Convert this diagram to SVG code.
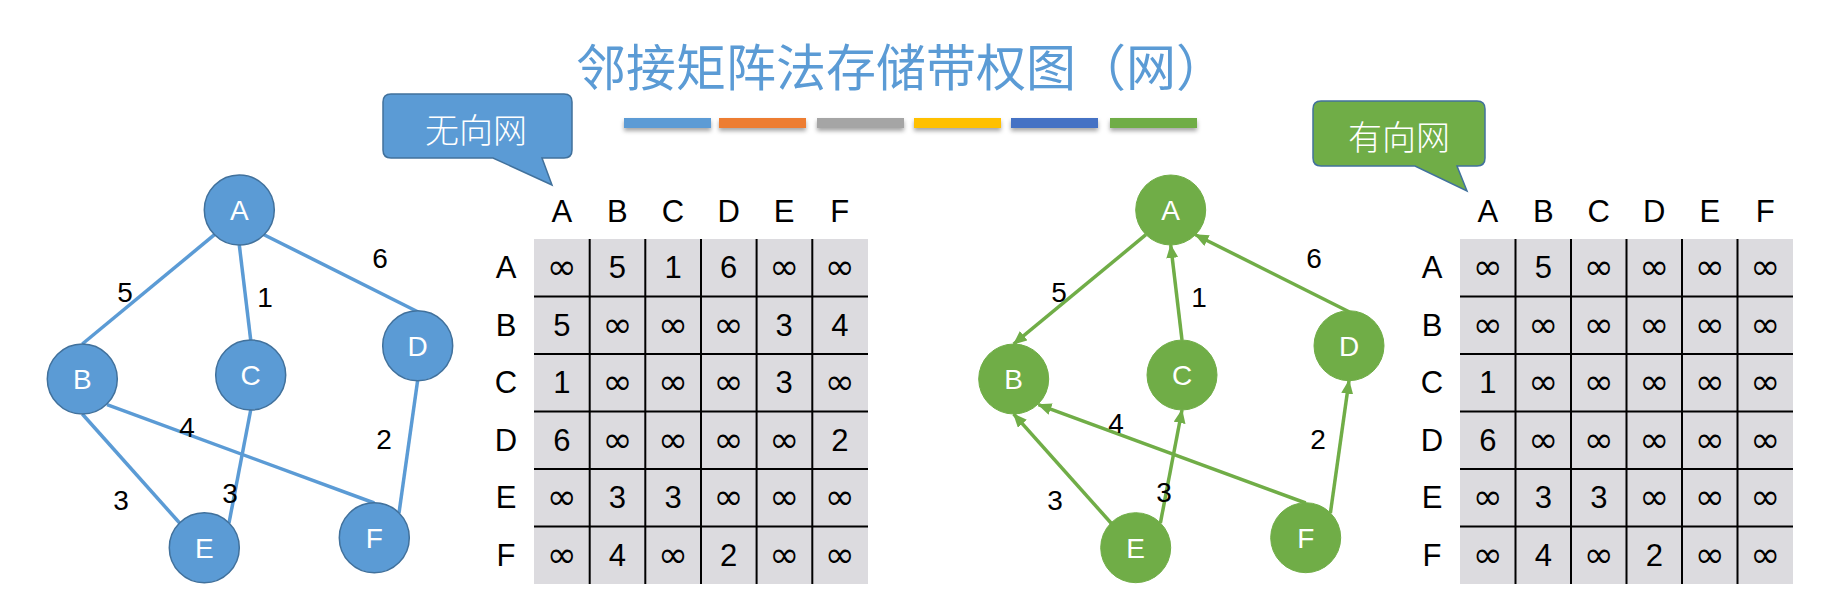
<svg xmlns="http://www.w3.org/2000/svg" width="1838" height="610" viewBox="0 0 1838 610">
<style>
.title{font-family:"Noto Sans CJK SC","Noto Sans",sans-serif;font-size:50px;fill:#5b9bd5}
.call{font-family:"Noto Sans CJK SC",sans-serif;font-size:34px;font-weight:300;fill:#ffffff;text-anchor:middle;dominant-baseline:central}
.nlab{font-family:"Liberation Sans",Arial,sans-serif;font-size:28px;fill:#ffffff;text-anchor:middle}
.elab{font-family:"Liberation Sans",Arial,sans-serif;font-size:28px;fill:#000000;text-anchor:middle}
.mt{font-family:"Liberation Sans",Arial,sans-serif;font-size:31px;fill:#000000;text-anchor:middle}
.inf{font-family:"DejaVu Sans",sans-serif;font-size:36px;fill:#000000;text-anchor:middle}
.bn{fill:#5b9bd5;stroke:#41719c;stroke-width:1.5}
.gn{fill:#70ad47;stroke:#70ad47;stroke-width:1}
.be{stroke:#5b9bd5;stroke-width:3.5;fill:none}
.ge{stroke:#70ad47;stroke-width:3.5;fill:none;marker-end:url(#ga)}
.cell{fill:#dcdbdf}
.grid{stroke:#000000;stroke-width:2}
</style>
<defs>
<marker id="ga" markerUnits="userSpaceOnUse" markerWidth="16" markerHeight="14" refX="13" refY="6" orient="auto">
<path d="M0,0 L14,6 L0,12 Z" fill="#70ad47"/>
</marker>
<filter id="sh" x="-10%" y="-50%" width="120%" height="250%">
<feDropShadow dx="0" dy="3" stdDeviation="2" flood-color="#000000" flood-opacity="0.35"/>
</filter>
</defs>

<g id="title">
<text class="title" x="576" y="86">邻接矩阵法存储带权图（网）</text>
</g>

<g id="color-bars" filter="url(#sh)">
<rect x="624" y="118" width="87" height="10" fill="#5b9bd5"/>
<rect x="719" y="118" width="87" height="10" fill="#ed7d31"/>
<rect x="817" y="118" width="87" height="10" fill="#a5a5a5"/>
<rect x="914" y="118" width="87" height="10" fill="#ffc000"/>
<rect x="1011" y="118" width="87" height="10" fill="#4472c4"/>
<rect x="1110" y="118" width="87" height="10" fill="#70ad47"/>
</g>

<g id="callout-undirected">
<path d="M391,94 H564 Q572,94 572,102 V150 Q572,158 564,158 H542 L552,185 L493,158 H391 Q383,158 383,150 V102 Q383,94 391,94 Z" fill="#5b9bd5" stroke="#41719c" stroke-width="1.5"/>
<text class="call" x="476" y="128">无向网</text>
</g>

<g id="callout-directed">
<path d="M1321,101 H1477 Q1485,101 1485,109 V158 Q1485,166 1477,166 H1457 L1467,191 L1415,166 H1321 Q1313,166 1313,158 V109 Q1313,101 1321,101 Z" fill="#70ad47" stroke="#41719c" stroke-width="1.5"/>
<text class="call" x="1399" y="135">有向网</text>
</g>

<g id="connectors-left">
<line class="be" x1="214.5" y1="234.7" x2="82.3" y2="344"/>
<line class="be" x1="239.3" y1="245" x2="250.7" y2="340"/>
<line class="be" x1="264" y1="234.7" x2="417.7" y2="311.7"/>
<line class="be" x1="82.3" y1="414" x2="179.6" y2="523"/>
<line class="be" x1="107" y1="404.7" x2="374.3" y2="503"/>
<line class="be" x1="250.7" y1="410" x2="229" y2="523"/>
<line class="be" x1="417.7" y1="380" x2="399" y2="513"/>
</g>
<g id="edge-labels-left">
<text class="elab" x="125" y="302">5</text>
<text class="elab" x="265" y="307">1</text>
<text class="elab" x="380" y="268">6</text>
<text class="elab" x="187" y="437">4</text>
<text class="elab" x="384" y="449">2</text>
<text class="elab" x="121" y="510">3</text>
<text class="elab" x="230" y="503">3</text>
</g>

<g id="uA"><circle class="bn" cx="239.3" cy="210" r="35"/><text class="nlab" x="239.3" y="220">A</text></g>
<g id="uB"><circle class="bn" cx="82.3" cy="379" r="35"/><text class="nlab" x="82.3" y="389">B</text></g>
<g id="uC"><circle class="bn" cx="250.7" cy="375" r="35"/><text class="nlab" x="250.7" y="385">C</text></g>
<g id="uD"><circle class="bn" cx="417.7" cy="345.7" r="35"/><text class="nlab" x="417.7" y="355.7">D</text></g>
<g id="uE"><circle class="bn" cx="204.3" cy="547.7" r="35"/><text class="nlab" x="204.3" y="557.7">E</text></g>
<g id="uF"><circle class="bn" cx="374.3" cy="537.7" r="35"/><text class="nlab" x="374.3" y="547.7">F</text></g>

<g id="connectors-right">
<line class="ge" x1="1145.9" y1="234.7" x2="1013.7" y2="344"/>
<line class="ge" x1="1182" y1="340" x2="1170.7" y2="245"/>
<line class="ge" x1="1349" y1="311.7" x2="1195.4" y2="234.7"/>
<line class="ge" x1="1111" y1="523" x2="1013.7" y2="414"/>
<line class="ge" x1="1305.7" y1="503" x2="1038.4" y2="404.7"/>
<line class="ge" x1="1160.4" y1="523" x2="1182" y2="410"/>
<line class="ge" x1="1330.4" y1="513" x2="1349" y2="380.7"/>
</g>
<g id="edge-labels-right">
<text class="elab" x="1059" y="302">5</text>
<text class="elab" x="1199" y="307">1</text>
<text class="elab" x="1314" y="268">6</text>
<text class="elab" x="1116" y="433">4</text>
<text class="elab" x="1318" y="449">2</text>
<text class="elab" x="1055" y="510">3</text>
<text class="elab" x="1164" y="502">3</text>
</g>

<g id="dA"><circle class="gn" cx="1170.7" cy="210" r="35"/><text class="nlab" x="1170.7" y="220">A</text></g>
<g id="dB"><circle class="gn" cx="1013.7" cy="379" r="35"/><text class="nlab" x="1013.7" y="389">B</text></g>
<g id="dC"><circle class="gn" cx="1182" cy="375" r="35"/><text class="nlab" x="1182" y="385">C</text></g>
<g id="dD"><circle class="gn" cx="1349" cy="345.7" r="35"/><text class="nlab" x="1349" y="355.7">D</text></g>
<g id="dE"><circle class="gn" cx="1135.7" cy="547.7" r="35"/><text class="nlab" x="1135.7" y="557.7">E</text></g>
<g id="dF"><circle class="gn" cx="1305.7" cy="537.7" r="35"/><text class="nlab" x="1305.7" y="547.7">F</text></g>

<g id="matrix-left">
<rect class="cell" x="534" y="239" width="334" height="345"/>
<g class="grid">
<line x1="589.7" y1="239" x2="589.7" y2="584"/>
<line x1="645.3" y1="239" x2="645.3" y2="584"/>
<line x1="701" y1="239" x2="701" y2="584"/>
<line x1="756.6" y1="239" x2="756.6" y2="584"/>
<line x1="812.3" y1="239" x2="812.3" y2="584"/>
<line x1="534" y1="296.5" x2="868" y2="296.5"/>
<line x1="534" y1="354" x2="868" y2="354"/>
<line x1="534" y1="411.5" x2="868" y2="411.5"/>
<line x1="534" y1="469" x2="868" y2="469"/>
<line x1="534" y1="526.5" x2="868" y2="526.5"/>
</g>
<text class="mt" x="561.8" y="221.5">A</text>
<text class="mt" x="617.4" y="221.5">B</text>
<text class="mt" x="673" y="221.5">C</text>
<text class="mt" x="728.6" y="221.5">D</text>
<text class="mt" x="784.2" y="221.5">E</text>
<text class="mt" x="839.8" y="221.5">F</text>
<text class="mt" x="506" y="278.3">A</text>
<text class="mt" x="506" y="335.8">B</text>
<text class="mt" x="506" y="393.3">C</text>
<text class="mt" x="506" y="450.8">D</text>
<text class="mt" x="506" y="508.3">E</text>
<text class="mt" x="506" y="565.8">F</text>
<text class="inf" x="561.8" y="279">∞</text>
<text class="mt" x="617.4" y="278.3">5</text>
<text class="mt" x="673" y="278.3">1</text>
<text class="mt" x="728.6" y="278.3">6</text>
<text class="inf" x="784.2" y="279">∞</text>
<text class="inf" x="839.8" y="279">∞</text>
<text class="mt" x="561.8" y="335.8">5</text>
<text class="inf" x="617.4" y="336.5">∞</text>
<text class="inf" x="673" y="336.5">∞</text>
<text class="inf" x="728.6" y="336.5">∞</text>
<text class="mt" x="784.2" y="335.8">3</text>
<text class="mt" x="839.8" y="335.8">4</text>
<text class="mt" x="561.8" y="393.3">1</text>
<text class="inf" x="617.4" y="394">∞</text>
<text class="inf" x="673" y="394">∞</text>
<text class="inf" x="728.6" y="394">∞</text>
<text class="mt" x="784.2" y="393.3">3</text>
<text class="inf" x="839.8" y="394">∞</text>
<text class="mt" x="561.8" y="450.8">6</text>
<text class="inf" x="617.4" y="451.5">∞</text>
<text class="inf" x="673" y="451.5">∞</text>
<text class="inf" x="728.6" y="451.5">∞</text>
<text class="inf" x="784.2" y="451.5">∞</text>
<text class="mt" x="839.8" y="450.8">2</text>
<text class="inf" x="561.8" y="509">∞</text>
<text class="mt" x="617.4" y="508.3">3</text>
<text class="mt" x="673" y="508.3">3</text>
<text class="inf" x="728.6" y="509">∞</text>
<text class="inf" x="784.2" y="509">∞</text>
<text class="inf" x="839.8" y="509">∞</text>
<text class="inf" x="561.8" y="566.5">∞</text>
<text class="mt" x="617.4" y="565.8">4</text>
<text class="inf" x="673" y="566.5">∞</text>
<text class="mt" x="728.6" y="565.8">2</text>
<text class="inf" x="784.2" y="566.5">∞</text>
<text class="inf" x="839.8" y="566.5">∞</text>
</g>

<g id="matrix-right">
<rect class="cell" x="1460" y="239" width="333" height="345"/>
<g class="grid">
<line x1="1515.5" y1="239" x2="1515.5" y2="584"/>
<line x1="1571" y1="239" x2="1571" y2="584"/>
<line x1="1626.5" y1="239" x2="1626.5" y2="584"/>
<line x1="1682" y1="239" x2="1682" y2="584"/>
<line x1="1737.5" y1="239" x2="1737.5" y2="584"/>
<line x1="1460" y1="296.5" x2="1793" y2="296.5"/>
<line x1="1460" y1="354" x2="1793" y2="354"/>
<line x1="1460" y1="411.5" x2="1793" y2="411.5"/>
<line x1="1460" y1="469" x2="1793" y2="469"/>
<line x1="1460" y1="526.5" x2="1793" y2="526.5"/>
</g>
<text class="mt" x="1487.8" y="221.5">A</text>
<text class="mt" x="1543.3" y="221.5">B</text>
<text class="mt" x="1598.8" y="221.5">C</text>
<text class="mt" x="1654.3" y="221.5">D</text>
<text class="mt" x="1709.8" y="221.5">E</text>
<text class="mt" x="1765.3" y="221.5">F</text>
<text class="mt" x="1432" y="278.3">A</text>
<text class="mt" x="1432" y="335.8">B</text>
<text class="mt" x="1432" y="393.3">C</text>
<text class="mt" x="1432" y="450.8">D</text>
<text class="mt" x="1432" y="508.3">E</text>
<text class="mt" x="1432" y="565.8">F</text>
<text class="inf" x="1487.8" y="279">∞</text>
<text class="mt" x="1543.3" y="278.3">5</text>
<text class="inf" x="1598.8" y="279">∞</text>
<text class="inf" x="1654.3" y="279">∞</text>
<text class="inf" x="1709.8" y="279">∞</text>
<text class="inf" x="1765.3" y="279">∞</text>
<text class="inf" x="1487.8" y="336.5">∞</text>
<text class="inf" x="1543.3" y="336.5">∞</text>
<text class="inf" x="1598.8" y="336.5">∞</text>
<text class="inf" x="1654.3" y="336.5">∞</text>
<text class="inf" x="1709.8" y="336.5">∞</text>
<text class="inf" x="1765.3" y="336.5">∞</text>
<text class="mt" x="1487.8" y="393.3">1</text>
<text class="inf" x="1543.3" y="394">∞</text>
<text class="inf" x="1598.8" y="394">∞</text>
<text class="inf" x="1654.3" y="394">∞</text>
<text class="inf" x="1709.8" y="394">∞</text>
<text class="inf" x="1765.3" y="394">∞</text>
<text class="mt" x="1487.8" y="450.8">6</text>
<text class="inf" x="1543.3" y="451.5">∞</text>
<text class="inf" x="1598.8" y="451.5">∞</text>
<text class="inf" x="1654.3" y="451.5">∞</text>
<text class="inf" x="1709.8" y="451.5">∞</text>
<text class="inf" x="1765.3" y="451.5">∞</text>
<text class="inf" x="1487.8" y="509">∞</text>
<text class="mt" x="1543.3" y="508.3">3</text>
<text class="mt" x="1598.8" y="508.3">3</text>
<text class="inf" x="1654.3" y="509">∞</text>
<text class="inf" x="1709.8" y="509">∞</text>
<text class="inf" x="1765.3" y="509">∞</text>
<text class="inf" x="1487.8" y="566.5">∞</text>
<text class="mt" x="1543.3" y="565.8">4</text>
<text class="inf" x="1598.8" y="566.5">∞</text>
<text class="mt" x="1654.3" y="565.8">2</text>
<text class="inf" x="1709.8" y="566.5">∞</text>
<text class="inf" x="1765.3" y="566.5">∞</text>
</g>
</svg>
